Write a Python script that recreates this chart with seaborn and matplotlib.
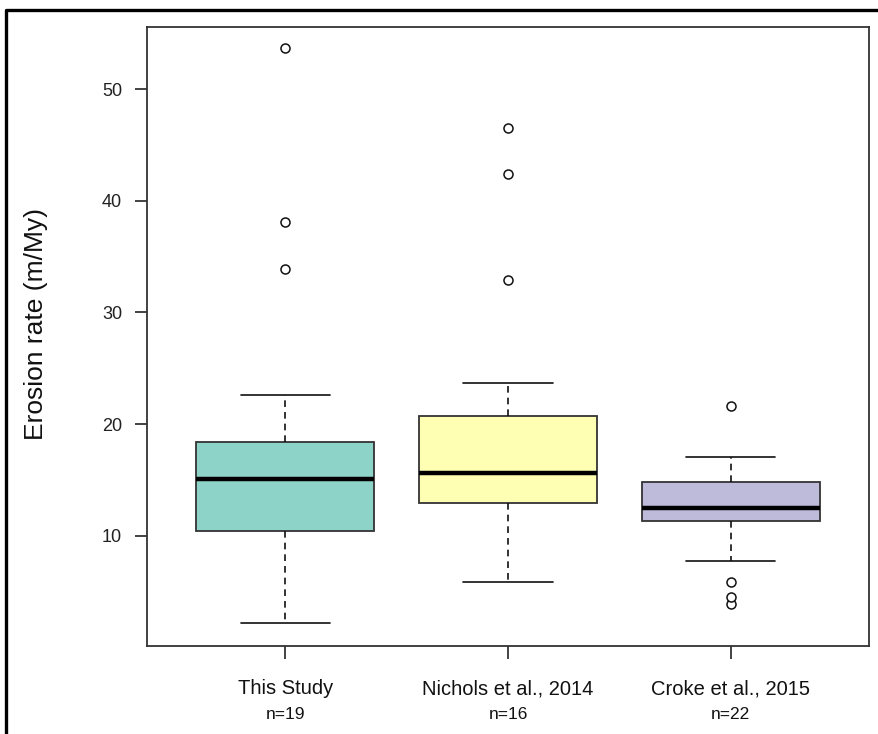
import numpy as np
import pandas as pd
import matplotlib
matplotlib.use("Agg")
import matplotlib.pyplot as plt
from matplotlib.lines import Line2D
import seaborn as sns

# Erosion rates (m/My) per study
studies = ["This Study", "Nichols et al., 2014", "Croke et al., 2015"]
this_study = [2.2, 5.4, 7.8, 9.3, 10.1, 10.8, 12.6, 13.5, 14.2, 15.1,
              15.9, 16.6, 17.3, 18.0, 18.8, 22.6, 33.9, 38.1, 53.7]
nichols_2014 = [5.9, 8.4, 11.2, 12.7, 13.03, 13.8, 14.6, 15.3, 15.9, 17.0,
                18.5, 19.78, 23.7, 32.9, 42.4, 46.5]
croke_2015 = [3.95, 4.58, 5.9, 7.77, 9.8, 11.2, 11.6, 11.8, 12.0, 12.2, 12.4,
              12.6, 13.0, 13.6, 14.1, 14.6, 14.87, 15.3, 15.9, 16.4, 17.1, 21.6]
y_ticks = [10, 20, 30, 40, 50]
box_colors = ["#8DD3C7", "#FFFFB3", "#BEBADA"]

series = [this_study, nichols_2014, croke_2015]
df = pd.DataFrame({
    "study": np.repeat(studies, [len(s) for s in series]),
    "rate": np.concatenate(series),
})

sns.set_style("white")
plt.rcParams["font.family"] = ["Liberation Sans", "DejaVu Sans"]

fig = plt.figure(figsize=(8.79, 7.34), dpi=100)
ax = fig.add_axes([147 / 879, 1 - 646 / 734, (869 - 147) / 879, (646 - 27) / 734])

line_col = "#333333"
sns.boxplot(
    data=df, x="study", y="rate", hue="study", order=studies,
    hue_order=studies, palette=box_colors, saturation=1, legend=False,
    width=0.8, whis=1.5, linecolor=line_col, linewidth=1.3, ax=ax,
    medianprops=dict(color="black", linewidth=3.2),
    whiskerprops=dict(color="#111111", linestyle=(0, (4, 3)), linewidth=1.2),
    capprops=dict(color="#111111", linewidth=1.2),
    flierprops=dict(marker="o", markersize=6.5, markerfacecolor="white",
                    markeredgecolor="#111111", markeredgewidth=1.1),
)

ax.set_xlim(-0.62, 2.62)
ax.set_ylim(0.15, 55.55)
ax.set_yticks(y_ticks)
ax.set_yticklabels([str(v) for v in y_ticks], fontsize=13, color="#222222")
ax.set_xticks(range(len(studies)))
ax.set_xticklabels(studies, fontsize=14.5, color="#111111")
ax.tick_params(axis="both", direction="out", length=9, width=1.2,
               color="#222222", left=True, bottom=True)
ax.tick_params(axis="x", pad=15)
ax.tick_params(axis="y", pad=9)

# sample sizes beneath category names
trans = ax.get_xaxis_transform()
for i, s in enumerate(series):
    ax.text(i, -0.111, f"n={len(s)}", transform=trans, ha="center", va="center",
            fontsize=12.5, color="#111111")

ax.set_xlabel("")
ax.set_ylabel("Erosion rate (m/My)", fontsize=19, color="#111111")
ax.yaxis.set_label_coords(-0.137, 0.52)

for sp in ax.spines.values():
    sp.set_visible(True)
    sp.set_color("#333333")
    sp.set_linewidth(1.3)

# outer frame on the figure's top and left edges
fig.add_artist(Line2D([6 / 879, 6 / 879, 1.0], [0.0, 1 - 10 / 734, 1 - 10 / 734],
                      transform=fig.transFigure, color="black", linewidth=2.4))

fig.savefig("out.png", dpi=100)
